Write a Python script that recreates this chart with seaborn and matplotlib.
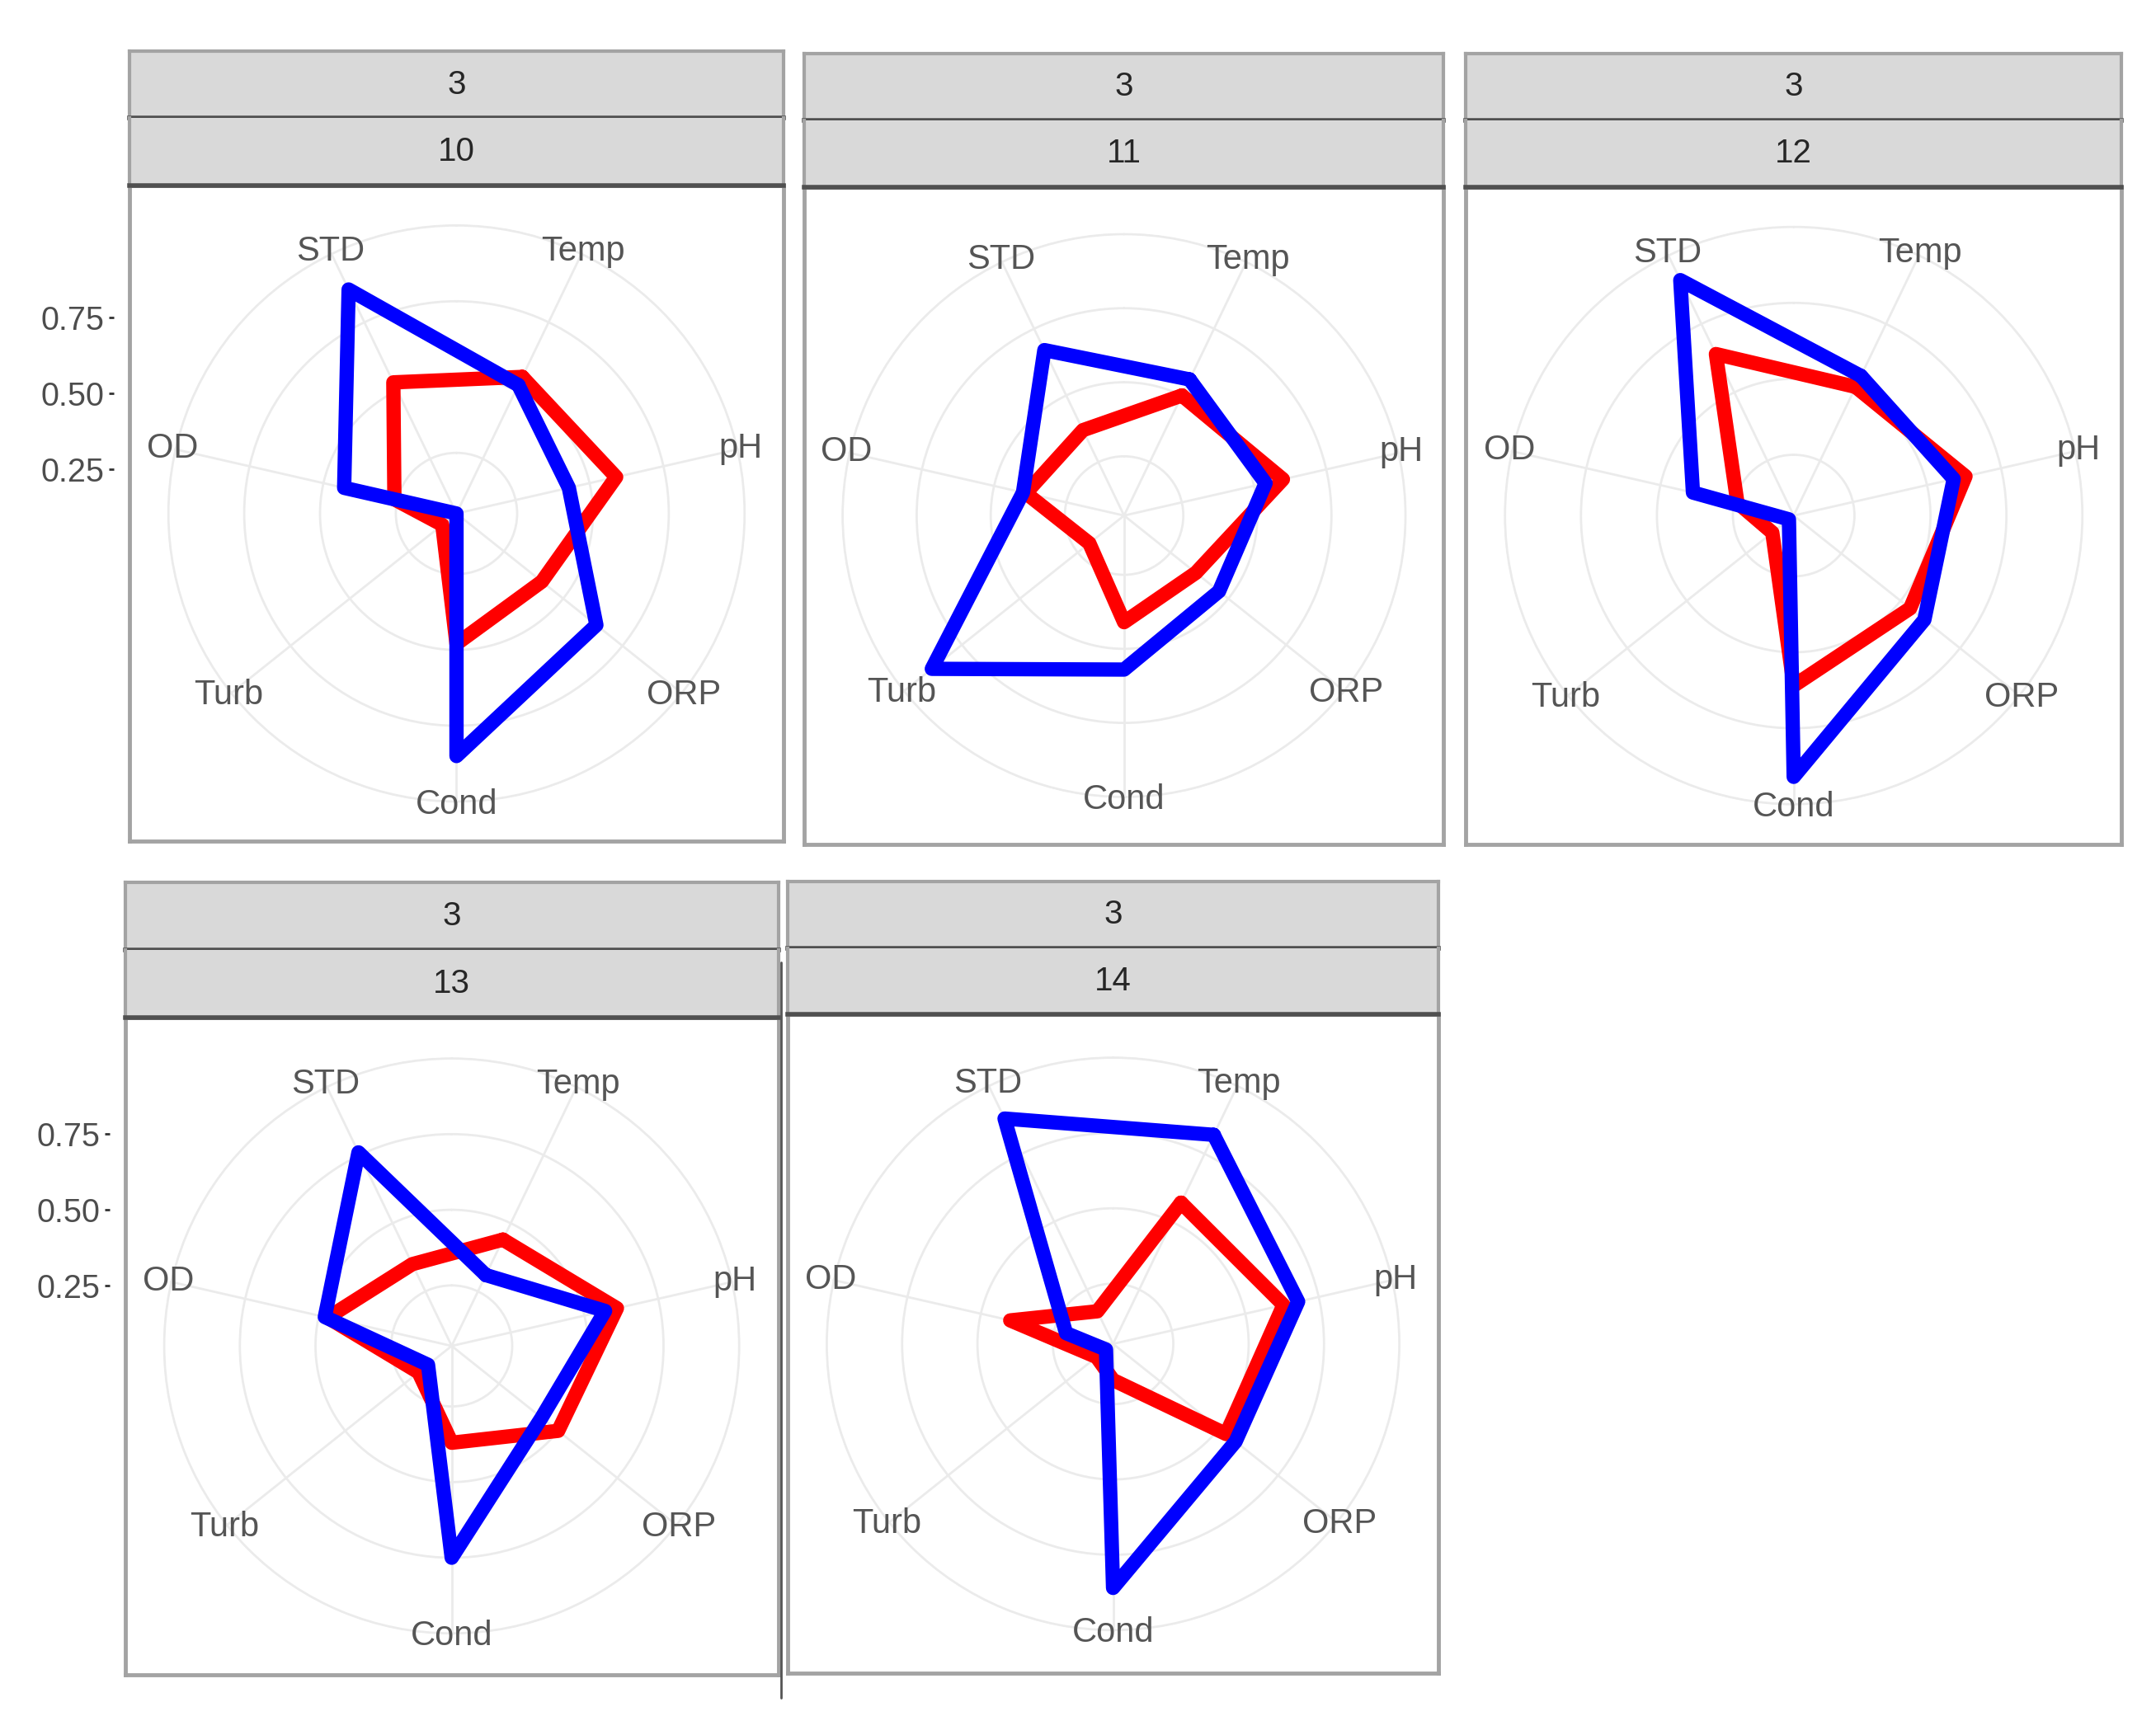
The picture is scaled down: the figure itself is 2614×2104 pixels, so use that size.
import numpy as np
import pandas as pd
import matplotlib
matplotlib.use('Agg')
import matplotlib.pyplot as plt
import seaborn as sns
from matplotlib.lines import Line2D

sns.set_theme(style='white')
plt.rcParams['font.family'] = ['Liberation Sans', 'DejaVu Sans']

# ─── Data ───
variables = ['Temp', 'pH', 'ORP', 'Cond', 'Turb', 'OD', 'STD']
facet_outer = ['3', '3', '3', '3', '3']
facet_inner = ['10', '11', '12', '13', '14']

red_10 = [0.55, 0.59, 0.41, 0.48, 0.11, 0.26, 0.53]
blue_10 = [0.52, 0.43, 0.64, 0.85, 0.05, 0.43, 0.87]
red_11 = [0.50, 0.60, 0.36, 0.41, 0.20, 0.39, 0.37]
blue_11 = [0.56, 0.54, 0.46, 0.57, 0.88, 0.40, 0.67]
red_12 = [0.52, 0.63, 0.54, 0.61, 0.14, 0.24, 0.64]
blue_12 = [0.56, 0.59, 0.60, 0.91, 0.07, 0.39, 0.91]
red_13 = [0.44, 0.61, 0.50, 0.37, 0.19, 0.47, 0.35]
blue_13 = [0.31, 0.57, 0.43, 0.75, 0.15, 0.48, 0.76]
red_14 = [0.57, 0.63, 0.53, 0.17, 0.12, 0.40, 0.17]
blue_14 = [0.82, 0.68, 0.57, 0.86, 0.08, 0.21, 0.88]

red_series = [red_10, red_11, red_12, red_13, red_14]
blue_series = [blue_10, blue_11, blue_12, blue_13, blue_14]

r_ticks = [0.25, 0.50, 0.75]
r_tick_labels = ['0.25', '0.50', '0.75']
r_grid = [0.25, 0.50, 0.75, 1.0]
R_MIN, R_MAX = 0.05, 1.005

# ─── Layout (reference pixels on a 1568 x 1262 canvas) ───
W, H = 1568.0, 1262.0
# x0, strip top, x1, panel top, panel bottom
boxes = [(94, 37, 570, 135, 612),
         (585, 39, 1050, 136, 614),
         (1066, 39, 1543, 136, 614),
         (91, 642, 566, 740, 1218),
         (573, 641, 1046, 738, 1217)]
first_col = [True, False, False, True, False]
# the top-row tick column sits a little low in the original composite
tick_shift_px = [12, 0, 0, 0, 0]
RAD_FRAC = 0.885

n = len(variables)
angles = [(i + 0.5) * 2 * np.pi / n for i in range(n)]

fig = plt.figure(figsize=(26.14, 21.04), dpi=100)


def frac(x, y):
    return x / W, 1 - y / H


for k, (x0, st, x1, pt, pb) in enumerate(boxes):
    # panel frame
    fx0, fy1 = frac(x0, pt)
    fx1, fy0 = frac(x1, pb)
    fax = fig.add_axes([fx0, fy0, fx1 - fx0, fy1 - fy0])
    fax.set_facecolor('white')
    fax.set_xticks([])
    fax.set_yticks([])
    for sp in fax.spines.values():
        sp.set_color('#a3a3a3')
        sp.set_linewidth(3.5)

    w_px, h_px = (x1 - x0), (pb - pt)
    rad_px = RAD_FRAC * min(w_px, h_px) / 2
    half = (h_px / 2) * (R_MAX - R_MIN) / rad_px
    fax.set_ylim(-half, half)
    fax.set_xlim(0, 1)
    if first_col[k]:
        # radial axis drawn a little left of the panel, as in coord_polar
        shift = tick_shift_px[k] * (R_MAX - R_MIN) / rad_px
        yax = fax.secondary_yaxis(-0.024)
        yax.spines['left'].set_visible(False)
        yax.set_yticks([v - R_MIN - shift for v in r_ticks])
        yax.set_yticklabels(r_tick_labels)
        yax.tick_params(axis='y', length=4, width=2, color='#333333',
                        labelsize=28.5, labelcolor='#4d4d4d', pad=4)

    # polar area
    cx, cy = (x0 + x1) / 2, (pt + pb) / 2
    px0, py1 = frac(cx - rad_px, cy - rad_px)
    px1, py0 = frac(cx + rad_px, cy + rad_px)
    pax = fig.add_axes([px0, py0, px1 - px0, py1 - py0], projection='polar')
    pax.set_facecolor('none')
    pax.set_theta_offset(np.pi / 2)
    pax.set_theta_direction(-1)

    rows = []
    for name, vals in (('red', red_series[k]), ('blue', blue_series[k])):
        for i, v in enumerate(list(vals) + [vals[0]]):
            rows.append({'theta': angles[i % n] + 2 * np.pi * (i // n),
                         'value': v, 'series': name})
    df = pd.DataFrame(rows)
    sns.lineplot(data=df, x='theta', y='value', hue='series',
                 hue_order=['red', 'blue'],
                 palette={'red': '#ff0000', 'blue': '#0000ff'},
                 sort=False, estimator=None, linewidth=12.5, legend=False,
                 solid_joinstyle='round', solid_capstyle='round', ax=pax)

    pax.set_ylim(R_MIN, R_MAX)
    pax.set_xticks(angles)
    pax.set_yticks(r_grid)
    pax.set_xticklabels([])
    pax.set_yticklabels([])
    pax.set_xlabel('')
    pax.set_ylabel('')
    pax.grid(True, color='#ebebeb', linewidth=2)
    pax.spines['polar'].set_visible(False)
    for a, name in zip(angles, variables):
        pax.text(a, 1.01, name, ha='center', va='center', fontsize=30,
                 color='#555555', clip_on=False)

    # strips
    sh = (pt - st) / 2
    for j, label in enumerate([facet_outer[k], facet_inner[k]]):
        sx0, sy1 = frac(x0, st + j * sh)
        sx1, sy0 = frac(x1, st + (j + 1) * sh)
        sax = fig.add_axes([sx0, sy0, sx1 - sx0, sy1 - sy0])
        sax.set_facecolor('#d9d9d9')
        sax.set_xticks([])
        sax.set_yticks([])
        for sp in sax.spines.values():
            sp.set_color('#a3a3a3')
            sp.set_linewidth(3)
        sax.spines['top'].set_visible(j == 0)
        sax.spines['bottom'].set_color('#505050')
        sax.spines['bottom'].set_linewidth(4)
        sax.text(0.5, 0.5, label, ha='center', va='center', fontsize=29,
                 color='#262626', transform=sax.transAxes)

# stray divider between the two lower panels
fig.add_artist(Line2D([568 / W, 568 / W], [1 - 700 / H, 1 - 1235 / H],
                      color='#555555', linewidth=2))

fig.savefig('out.png', dpi=100, facecolor='white')
